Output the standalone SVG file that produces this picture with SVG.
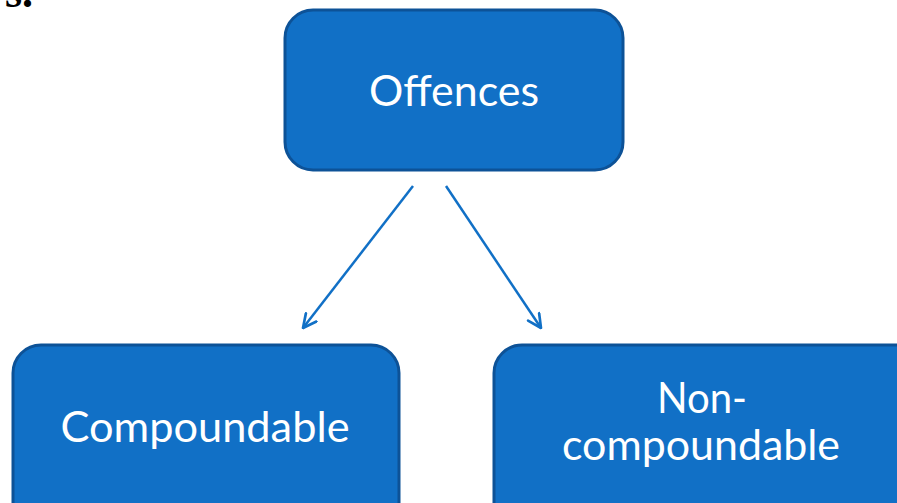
<svg xmlns="http://www.w3.org/2000/svg" width="897" height="503" viewBox="0 0 897 503">
<style>
.box{fill:#1170c6;stroke:#0d5297;stroke-width:3}
.lbl{fill:#ffffff;font-family:Lato,"Noto Sans",sans-serif;font-size:42px;text-anchor:middle}
.con{stroke:#1170c6;stroke-width:2.5;fill:none;marker-end:url(#ah)}
</style>
<defs>
<marker id="ah" viewBox="0 0 12 12" refX="11" refY="6" markerWidth="16" markerHeight="16" markerUnits="userSpaceOnUse" orient="auto">
<path d="M1,1 L11,6 L1,11" fill="none" stroke="#1170c6" stroke-width="2" stroke-linecap="round" stroke-linejoin="round"/>
</marker>
</defs>
<rect width="897" height="503" fill="#ffffff"/>
<text x="5" y="7" font-family="Liberation Serif,serif" font-weight="bold" font-size="44" fill="#000">s.</text>
<g id="offences">
<rect class="box" x="285" y="10" width="338" height="160" rx="28"/>
<text class="lbl" x="454" y="106" textLength="170" lengthAdjust="spacingAndGlyphs">Offences</text>
</g>
<g id="compoundable">
<rect class="box" x="13" y="345" width="386" height="190" rx="28"/>
<text class="lbl" x="205" y="442" textLength="289" lengthAdjust="spacingAndGlyphs">Compoundable</text>
</g>
<g id="noncompoundable">
<rect class="box" x="494" y="345" width="440" height="190" rx="28"/>
<text class="lbl" x="702" y="413" textLength="90" lengthAdjust="spacingAndGlyphs">Non-</text>
<text class="lbl" x="701" y="460" textLength="278" lengthAdjust="spacingAndGlyphs">compoundable</text>
</g>
<g id="connectors">
<line class="con" x1="413" y1="186" x2="303" y2="328"/>
<line class="con" x1="446" y1="186" x2="541" y2="328"/>
</g>
</svg>
